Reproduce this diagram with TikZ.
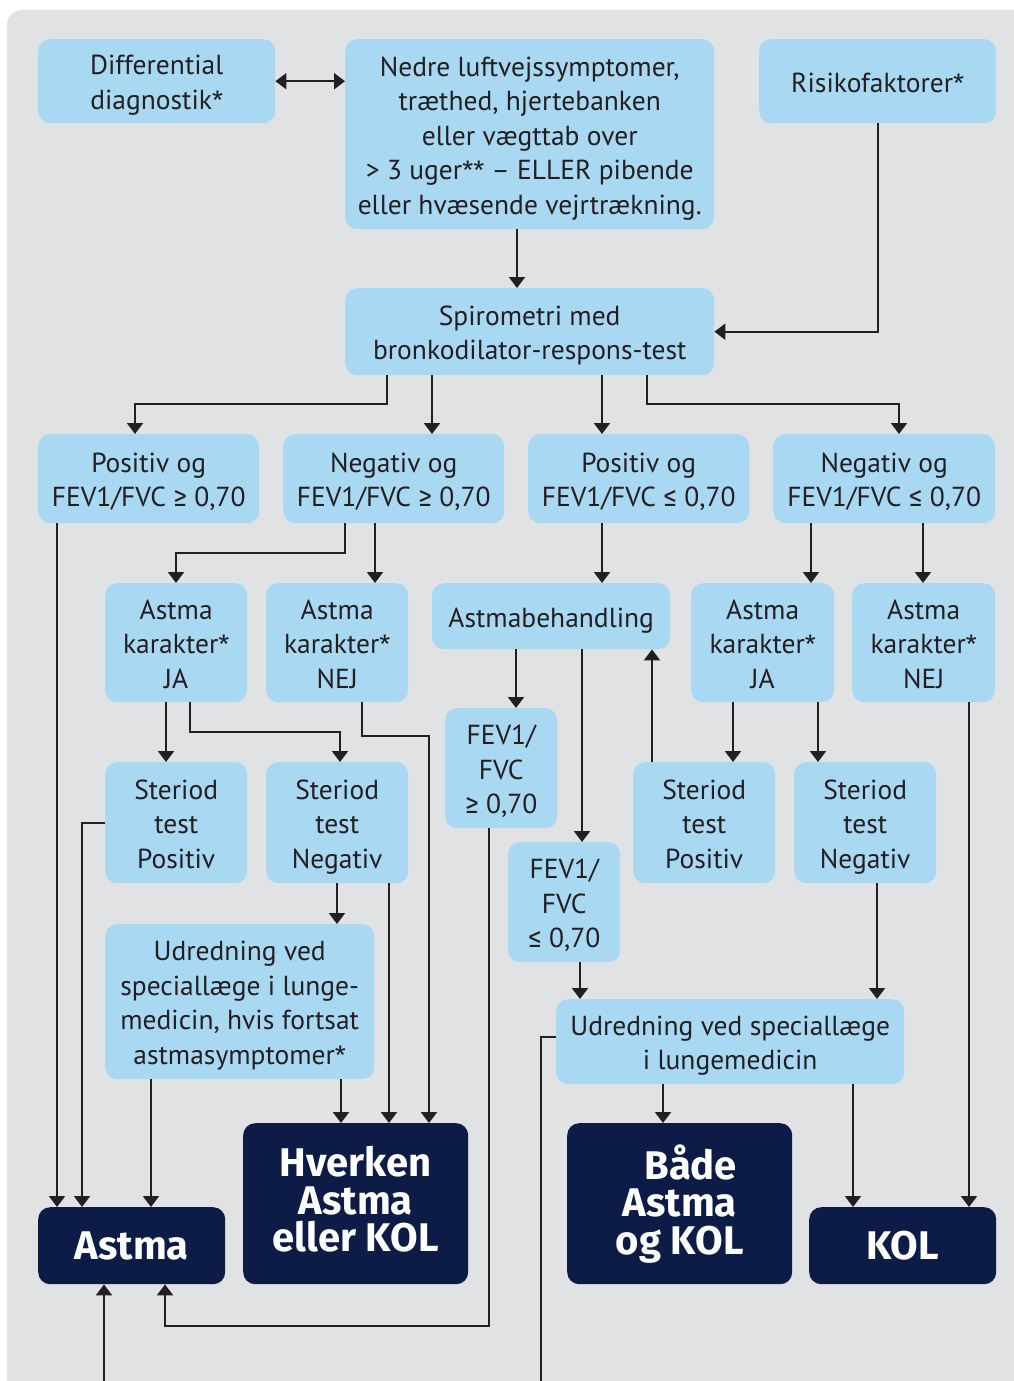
\documentclass[tikz,border=0pt]{standalone}
\usepackage{fontspec}
\setmainfont{PT Sans}
\newfontfamily\heavy{Fira Sans}
\usetikzlibrary{arrows.meta}
\definecolor{lb}{HTML}{A9D8F3}
\definecolor{navy}{HTML}{0C1C46}
\definecolor{bgc}{HTML}{E1E2E4}
\definecolor{lc}{HTML}{231F20}
\newcommand\gek{{\heavy ≥}}
\newcommand\lek{{\heavy ≤}}
\newcommand\stj{{\heavy\fontsize{25}{25}\selectfont *}}
\newcommand\tl{\rule{0pt}{29pt}}
\newcommand\td{\rule[-7pt]{0pt}{0pt}}
\newcommand\tb{\rule[-9pt]{0pt}{0pt}}
\begin{document}
\begin{tikzpicture}[x=1pt,y=-1pt,
  lbox/.style={fill=lb, rounded corners=12pt, align=center, inner sep=0pt, anchor=north west,
    text=lc, font=\fontsize{27.5}{34.5}\selectfont},
  dbox/.style={fill=navy, rounded corners=12pt, align=center, inner sep=0pt, anchor=north west,
    text=white, font=\heavy\bfseries\fontsize{40}{37.5}\selectfont},
  ar/.style={draw=lc, line width=2.2pt, -{Triangle[width=16pt,length=11pt]}},
  ln/.style={draw=lc, line width=2.2pt},
  ar2/.style={draw=lc, line width=2.2pt, {Triangle[width=16pt,length=11pt]}-{Triangle[width=16pt,length=11pt]}}]
\useasboundingbox (0,0) rectangle (1013,1381);
\fill[white] (0,0) rectangle (1013,1381);
\fill[bgc, rounded corners=15pt] (7,10) rectangle (1040,1420);

% row 1
\node[lbox, minimum width=237pt, minimum height=84pt] (diff) at (38,39) {\tl Differential\\diagnostik\stj\td};
\node[lbox, minimum width=369pt, minimum height=190pt] (nedre) at (345,39) {\tl Nedre luftvejssymptomer,\\træthed, hjertebanken\\eller vægttab over\\> 3 uger\stj\stj{} – ELLER pibende\\eller hvæsende vejrtrækning.\td};
\node[lbox, minimum width=237pt, minimum height=84pt] (risk) at (759,39) {\tl Risikofaktorer\stj\td};
\node[lbox, minimum width=369pt, minimum height=87pt] (spiro) at (345,288) {\tl Spirometri med\\bronkodilator-respons-test\td};
% row 3
\node[lbox, minimum width=221pt, minimum height=89pt] (pa) at (38,434) {\tl Positiv og\\FEV1/FVC \gek\ 0,70\td};
\node[lbox, minimum width=221pt, minimum height=89pt] (na) at (283,434) {\tl Negativ og\\FEV1/FVC \gek\ 0,70\td};
\node[lbox, minimum width=221pt, minimum height=89pt] (pb) at (528,434) {\tl Positiv og\\FEV1/FVC \lek\ 0,70\td};
\node[lbox, minimum width=222pt, minimum height=89pt] (nb) at (773,434) {\tl Negativ og\\FEV1/FVC \lek\ 0,70\td};
% row 4
\node[lbox, minimum width=142pt, minimum height=119pt] (aja1) at (105,583) {\tl Astma\\karakter\stj\\JA\td};
\node[lbox, minimum width=142pt, minimum height=119pt] (anej1) at (266,583) {\tl Astma\\karakter\stj\\NEJ\td};
\node[lbox, minimum width=238pt, minimum height=66pt] (abeh) at (432,583) {\tl Astmabehandling\td};
\node[lbox, minimum width=143pt, minimum height=119pt] (aja2) at (691,583) {\tl Astma\\karakter\stj\\JA\td};
\node[lbox, minimum width=143pt, minimum height=119pt] (anej2) at (852,583) {\tl Astma\\karakter\stj\\NEJ\td};
% row 5
\node[lbox, minimum width=142pt, minimum height=121pt] (sp1) at (105,762) {\tl Steriod\\test\\Positiv\td};
\node[lbox, minimum width=142pt, minimum height=121pt] (sn1) at (266,762) {\tl Steriod\\test\\Negativ\td};
\node[lbox, minimum width=112pt, minimum height=120pt] (fg) at (445,708) {\tl FEV1/\\FVC\\\gek\ 0,70\td};
\node[lbox, minimum width=112pt, minimum height=120pt] (fl) at (508,842) {\tl FEV1/\\FVC\\\lek\ 0,70\td};
\node[lbox, minimum width=142pt, minimum height=121pt] (sp2) at (633,762) {\tl Steriod\\test\\Positiv\td};
\node[lbox, minimum width=142pt, minimum height=121pt] (sn2) at (794,762) {\tl Steriod\\test\\Negativ\td};
% udredning
\node[lbox, minimum width=269pt, minimum height=155pt] (ud1) at (105,924) {\tl Udredning ved\\speciallæge i lunge-\\medicin, hvis fortsat\\astmasymptomer\stj\td};
\node[lbox, minimum width=348pt, minimum height=85pt] (ud2) at (556,999) {\tl Udredning ved speciallæge\\i lungemedicin\td};
% outcomes
\node[dbox, minimum width=187pt, minimum height=77pt] (astma) at (38,1207) {Astma};
\node[dbox, minimum width=225pt, minimum height=161pt] (hverken) at (243,1123) {Hverken\\Astma\\eller KOL\tb};
\node[dbox, minimum width=225pt, minimum height=161pt] (begge) at (567,1123) {\hspace*{22pt}Både\\Astma\\og KOL\tb};
\node[dbox, minimum width=187pt, minimum height=77pt] (kol) at (809,1207) {KOL};

\coordinate (exitA) at (104,1381);
\coordinate (exitB) at (541,1381);

% connectors
\draw[ar2] (diff.east) -- (diff.east -| nedre.west);
\draw[ar] (nedre.south -| 517,0) -- (spiro.north -| 517,0);
\draw[ar] (risk.south -| 878,0) |- (spiro.east);
\draw[ar] (spiro.south -| 387,0) |- (135,404) -- (pa.north -| 135,0);
\draw[ar] (spiro.south -| 432,0) -- (na.north -| 432,0);
\draw[ar] (spiro.south -| 602,0) -- (pb.north -| 602,0);
\draw[ar] (spiro.south -| 647,0) |- (899,404) -- (nb.north -| 899,0);

\draw[ar] (na.south -| 345,0) |- (176,553) -- (aja1.north -| 176,0);
\draw[ar] (na.south -| 375,0) -- (anej1.north -| 375,0);
\draw[ar] (pb.south -| 602,0) -- (abeh.north -| 602,0);
\draw[ar] (nb.south -| 811,0) -- (aja2.north -| 811,0);
\draw[ar] (nb.south -| 923,0) -- (anej2.north -| 923,0);

\draw[ar] (pa.south -| 57,0) -- (astma.north -| 57,0);
\draw[ar] (aja1.south -| 166,0) -- (sp1.north -| 166,0);
\draw[ar] (aja1.south -| 190,0) |- (340,732) -- (sn1.north -| 340,0);
\draw[ar] (anej1.south -| 362,0) |- (429,736) -- (hverken.north -| 429,0);
\draw[ar] (sp1.west |- 0,823) -| (astma.north -| 82,0);
\draw[ar] (sn1.south -| 337,0) -- (ud1.north -| 337,0);
\draw[ar] (sn1.south -| 389,0) -- (hverken.north -| 389,0);
\draw[ar] (ud1.south -| 151,0) -- (astma.north -| 151,0);
\draw[ar] (ud1.south -| 341,0) -- (hverken.north -| 341,0);

\draw[ar] (abeh.south -| 516,0) -- (fg.north -| 516,0);
\draw[ar] (abeh.south -| 582,0) -- (fl.north -| 582,0);
\draw[ar] (sp2.north -| 652,0) -- (abeh.south -| 652,0);
\draw[ar] (aja2.south -| 733,0) -- (sp2.north -| 733,0);
\draw[ar] (aja2.south -| 818,0) -- (sn2.north -| 818,0);
\draw[ar] (anej2.south -| 969,0) -- (kol.north -| 969,0);

\draw[ar] (fg.south -| 489,0) |- (165,1326) -- (astma.south -| 165,0);
\draw[ar] (fl.south -| 580,0) -- (ud2.north -| 580,0);
\draw[ar] (sn2.south -| 877,0) -- (ud2.north -| 877,0);
\draw[ar] (ud2.south -| 663,0) -- (begge.north -| 663,0);
\draw[ar] (ud2.south -| 853,0) -- (kol.north -| 853,0);
\draw[ln] (ud2.west |- 0,1037) -| (exitB);
\draw[ar] (exitA) -- (astma.south -| 104,0);
\end{tikzpicture}
\end{document}
